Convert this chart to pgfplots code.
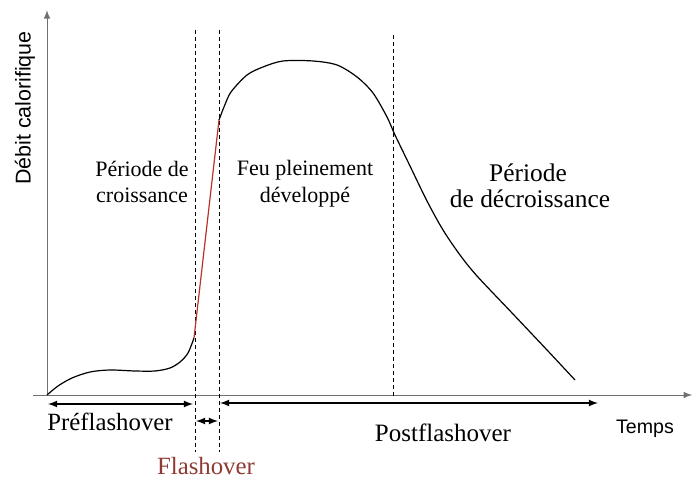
\documentclass[border=0pt]{standalone}
\usepackage{pgfplots}
\pgfplotsset{compat=1.18}
\usepackage{fontspec}
\setmainfont{Liberation Serif}
\newfontfamily\sansf{Liberation Sans}
\definecolor{flashred}{HTML}{8E3B33}
\definecolor{redline}{HTML}{B8322A}
\definecolor{axgray}{HTML}{707070}
\begin{document}
\begin{tikzpicture}
\begin{axis}[
  width=347pt, height=239.5pt, scale only axis,
  xmin=0, xmax=694, ymin=0, ymax=479,
  hide axis, clip=false,
  every node/.append style={inner sep=0pt, outer sep=0pt},
]
\path (axis cs:0,0) rectangle (axis cs:694,479);
% axes
\draw[axgray, line width=0.5pt, -latex] (axis cs:47,84) -- (axis cs:47,469);
\draw[axgray, line width=0.45pt, -latex] (axis cs:33,84) -- (axis cs:692,84);
% dashed separators
\draw[black, line width=0.5pt, dash pattern=on 2pt off 1.5pt] (axis cs:195,449) -- (axis cs:195,27);
\draw[black, line width=0.5pt, dash pattern=on 2pt off 1.5pt] (axis cs:219,449) -- (axis cs:219,27);
\draw[black, line width=0.5pt, dash pattern=on 2pt off 1.5pt] (axis cs:393,444) -- (axis cs:393,82);
% curve: preflashover
\addplot[black, line width=0.6pt, smooth] coordinates {
 (47,84) (58,93) (72,101) (90,107) (110,109) (135,108) (155,108) (170,111) (180,117) (188,126) (194,141)
};
% flashover (red)
\addplot[redline, line width=0.6pt] coordinates {(194,141) (219,359)};
% fully developed and decay
\addplot[black, line width=0.6pt, smooth] coordinates {
 (219,359) (224,372) (231,387) (247,404) (263,412) (283,418) (313,418) (337,414) (357,402) (373,386) (387,362) (395,344) (410,313) (427,278) (443,249) (460,224) (477,203) (513,165) (547,129) (575,99)
};
% period arrows
\draw[black, line width=0.6pt, latex-latex] (axis cs:48,75) -- (axis cs:193,75);
\draw[black, line width=0.6pt, latex-latex] (axis cs:196,58) -- (axis cs:218,58);
\draw[black, line width=0.6pt, latex-latex] (axis cs:220,76) -- (axis cs:598,76);
% labels
\node[anchor=base, font=\fontsize{12.4}{14}\selectfont] at (axis cs:110,48) {Préflashover};
\node[anchor=base, text=flashred, font=\fontsize{12.4}{14}\selectfont] at (axis cs:206,4) {Flashover};
\node[anchor=base, font=\fontsize{12.5}{14}\selectfont] at (axis cs:443,37) {Postflashover};
\node[anchor=base, font=\sansf\fontsize{9.8}{12}\selectfont] at (axis cs:645,45) {Temps};
\node[anchor=base, font=\fontsize{11}{13}\selectfont] at (axis cs:142,302) {Période de};
\node[anchor=base, font=\fontsize{11}{13}\selectfont] at (axis cs:142,276) {croissance};
\node[anchor=base, font=\fontsize{11}{13}\selectfont] at (axis cs:305,303) {Feu pleinement};
\node[anchor=base, font=\fontsize{11}{13}\selectfont] at (axis cs:305,276) {développé};
\node[anchor=base, font=\fontsize{12.7}{15}\selectfont] at (axis cs:528,297) {Période};
\node[anchor=base, font=\fontsize{12.7}{15}\selectfont] at (axis cs:530,271) {de décroissance};
\node[rotate=90, font=\sansf\fontsize{10.7}{12}\selectfont] at (axis cs:25,371) {Débit calorifique};
\end{axis}
\end{tikzpicture}
\end{document}
